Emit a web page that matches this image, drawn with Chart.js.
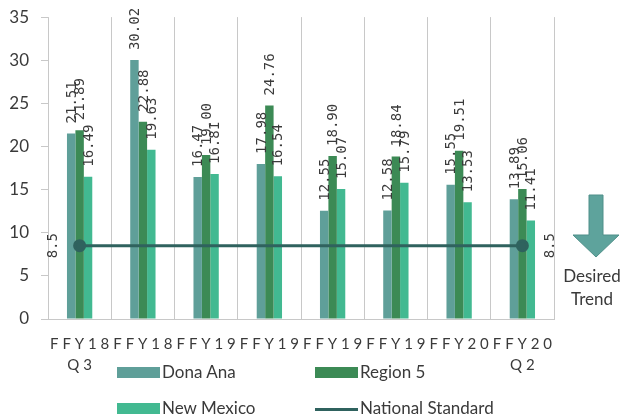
<!DOCTYPE html>
<html>
<head>
<meta charset="utf-8">
<script src="https://cdn.jsdelivr.net/npm/chart.js@4"></script>
<style>
  body { margin: 0; background: #fff; }
  #wrap { position: relative; width: 625px; height: 420px; font-family: Lato, "Open Sans", sans-serif; color: #3a3a3a; }
  #chart { position: absolute; left: 0; top: 0; }
  .lg { position: absolute; font-size: 17px; line-height: 20px; }
  .sw { position: absolute; width: 43px; height: 11px; }
  .ln { position: absolute; width: 43px; height: 3px; }
  #trend { position: absolute; left: 556px; top: 264px; width: 72px; text-align: center; font-size: 17px; line-height: 23px; }
  #arrow { position: absolute; left: 570px; top: 193px; }
</style>
</head>
<body>
<div id="wrap">
  <canvas id="chart" width="625" height="420"></canvas>
  <div class="sw" style="left:117px;top:367px;background:#5f9f99"></div>
  <div class="lg" style="left:162px;top:362px">Dona Ana</div>
  <div class="sw" style="left:315px;top:367px;background:#3c8a55"></div>
  <div class="lg" style="left:360px;top:362px">Region 5</div>
  <div class="sw" style="left:117px;top:403px;background:#42b991"></div>
  <div class="lg" style="left:162px;top:398px">New Mexico</div>
  <div class="ln" style="left:315px;top:408px;background:#2f625e"></div>
  <div class="lg" style="left:360px;top:398px">National Standard</div>
  <svg id="arrow" width="52" height="66">
    <path d="M19 2 H33 V42 H49 L26 64 L3 42 H19 Z" fill="#5ea39c" stroke="#4f8f89" stroke-width="1"/>
  </svg>
  <div id="trend">Desired<br>Trend</div>
</div>
<script>
const categories = ["FFY18 Q3", "FFY18 Q4", "FFY19 Q1", "FFY19 Q2", "FFY19 Q3", "FFY19 Q4", "FFY20 Q1", "FFY20 Q2"];
const donaAna = [21.51, 30.02, 16.47, 17.98, 12.55, 12.58, 15.55, 13.89];
const region5 = [21.89, 22.88, 19.00, 24.76, 18.90, 18.84, 19.51, 15.06];
const newMexico = [16.49, 19.63, 16.81, 16.54, 15.07, 15.79, 13.53, 11.41];
const nationalStandard = [8.5, 8.5, 8.5, 8.5, 8.5, 8.5, 8.5, 8.5];
const yTicks = [0, 5, 10, 15, 20, 25, 30, 35];

const last = categories.length - 1;
const spaced = (s) => s.split("").join(" ");

// rotated value labels above bars and beside the standard line ends
const valueLabels = {
  id: "valueLabels",
  afterDatasetsDraw(chart) {
    const ctx = chart.ctx;
    ctx.save();
    ctx.font = "14px 'DejaVu Sans Mono', monospace";
    ctx.fillStyle = "#3a3a3a";
    ctx.textBaseline = "middle";
    chart.data.datasets.forEach((ds, di) => {
      const meta = chart.getDatasetMeta(di);
      meta.data.forEach((el, i) => {
        ctx.save();
        if (ds.type === "line") {
          if (i !== 0 && i !== last) { ctx.restore(); return; }
          const x = i === 0 ? el.x - 26 : el.x + 28;
          ctx.translate(x, el.y);
          ctx.rotate(-Math.PI / 2);
          ctx.textAlign = "center";
          ctx.fillText(ds.data[i].toFixed(1), 0, 0);
        } else {
          ctx.translate(el.x + 1, el.y - 10);
          ctx.rotate(-Math.PI / 2);
          ctx.textAlign = "left";
          ctx.fillText(ds.data[i].toFixed(2), 0, 0);
        }
        ctx.restore();
      });
    });
    ctx.restore();
  }
};

new Chart(document.getElementById("chart"), {
  type: "bar",
  data: {
    labels: categories,
    datasets: [
      { type: "line", label: "National Standard", data: nationalStandard, borderColor: "#2f625e", borderWidth: 3,
        pointRadius: nationalStandard.map((v, i) => (i === 0 || i === last ? 5 : 0)),
        pointBackgroundColor: "#2f625e", pointBorderColor: "#2f625e", order: 0 },
      { label: "Dona Ana", data: donaAna, backgroundColor: "#5f9f99", order: 1 },
      { label: "Region 5", data: region5, backgroundColor: "#3c8a55", order: 1 },
      { label: "New Mexico", data: newMexico, backgroundColor: "#42b991", order: 1 },
    ],
  },
  options: {
    responsive: false,
    animation: false,
    layout: { padding: { top: 17, right: 71, left: 0, bottom: 0 } },
    datasets: { bar: { categoryPercentage: 0.4, barPercentage: 1 } },
    plugins: { legend: { display: false }, tooltip: { enabled: false } },
    scales: {
      x: {
        afterFit: (s) => { s.height = 101; },
        grid: { color: "#c8c8c8", borderDash: [2, 2], drawTicks: false, offset: true },
        border: { display: true, color: "#c8c8c8" },
        ticks: {
          padding: 14,
          maxRotation: 0,
          autoSkip: false,
          color: "#3a3a3a",
          font: { family: "Lato", size: 15, lineHeight: 1.45 },
          callback: (v, i) => {
            const [a, b] = categories[i].split(" ");
            return [spaced(a), i === 0 || i === last ? spaced(b) : ""];
          },
        },
      },
      y: {
        min: 0,
        max: 35,
        afterFit: (s) => { s.width = 48; },
        afterBuildTicks: (s) => { s.ticks = yTicks.map((v) => ({ value: v })); },
        grid: { drawOnChartArea: false, drawTicks: true, tickLength: 7, color: "#c8c8c8" },
        border: { display: false },
        ticks: { padding: 12, color: "#3a3a3a", font: { family: "Lato", size: 17, lineHeight: 0.6 } },
      },
    },
  },
  plugins: [valueLabels],
});
</script>
</body>
</html>
